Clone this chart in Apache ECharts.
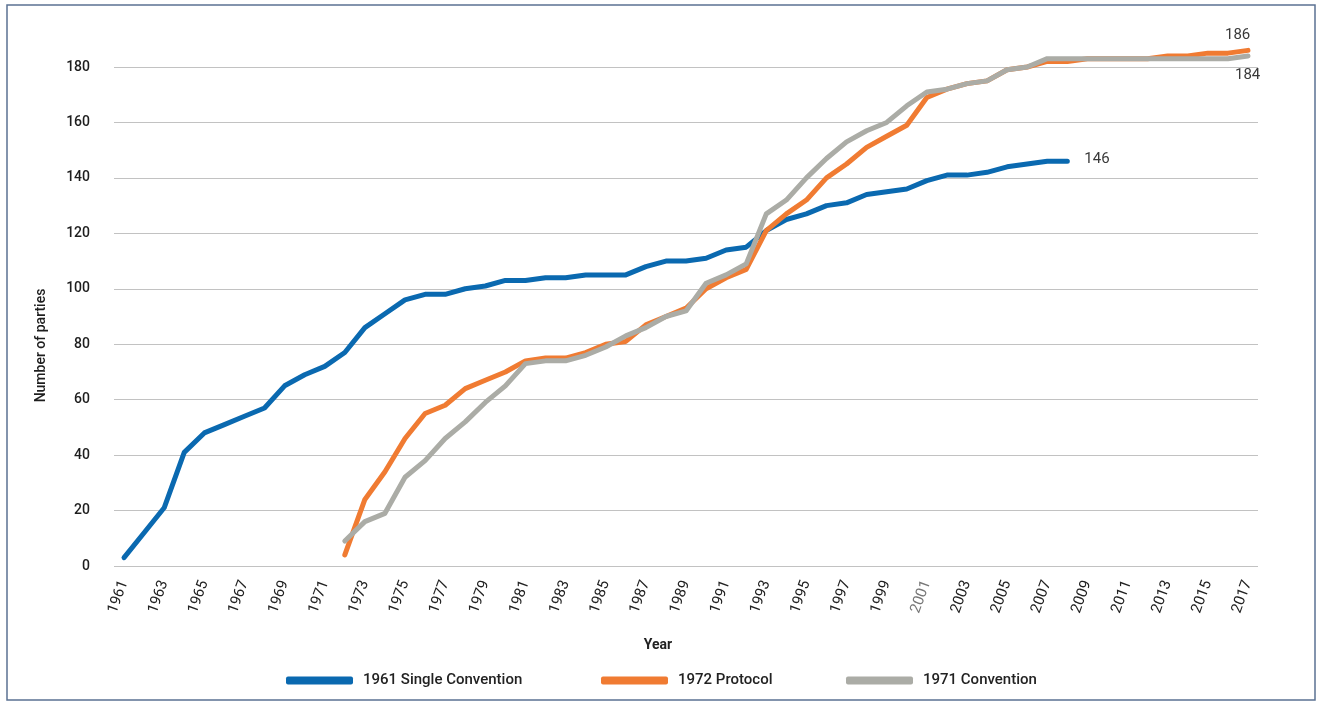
<!DOCTYPE html>
<html lang="en">
<head>
    <meta charset="UTF-8">
    <title>Parties to the drug control conventions</title>
</head>
<style>
    html, body{
        margin: 0;
        height: 100%;
        background-color: #fff;
    }
    .main{
        width: 1317px;
        height: 702px;
    }
</style>
<body>
<div id="main" class="main"></div>
<script src="https://cdn.jsdelivr.net/npm/echarts@6/dist/echarts.min.js"></script>
<script>
    // years on the x axis
    var firstYear = 1961, lastYear = 2017;
    var years = [];
    for (var y = firstYear; y <= lastYear; y++) {
        years.push(String(y));
    }

    // 1961 Single Convention, 1961..2008
    var singleConvention = [3, 12, 21, 41, 48, 51, 54, 57, 65, 69,
        72, 77, 86, 91, 96, 98, 98, 100, 101, 103,
        103, 104, 104, 105, 105, 105, 108, 110, 110, 111,
        114, 115, 121, 125, 127, 130, 131, 134, 135, 136,
        139, 141, 141, 142, 144, 145, 146, 146];

    // 1972 Protocol, 1972..2017
    var protocolStart = 1972;
    var protocol1972 = [4, 24, 34, 46, 55, 58, 64, 67, 70, 74,
        75, 75, 77, 80, 81, 87, 90, 93, 100, 104,
        107, 121, 127, 132, 140, 145, 151, 155, 159, 169,
        172, 174, 175, 179, 180, 182, 182, 183, 183, 183,
        183, 184, 184, 185, 185, 186];

    // 1971 Convention, 1972..2017
    var conventionStart = 1972;
    var convention1971 = [9, 16, 19, 32, 38, 46, 52, 59, 65, 73,
        74, 74, 76, 79, 83, 86, 90, 92, 102, 105,
        109, 127, 132, 140, 147, 153, 157, 160, 166, 171,
        172, 174, 175, 179, 180, 183, 183, 183, 183, 183,
        183, 183, 183, 183, 183, 184];

    var yTicks = [0, 20, 40, 60, 80, 100, 120, 140, 160, 180];
    var seriesNames = ['1961 Single Convention', '1972 Protocol', '1971 Convention'];

    function padFrom(start, arr) {
        var out = [];
        for (var i = 0; i < start - firstYear; i++) out.push(null);
        return out.concat(arr);
    }

    var font = 'Roboto, "Open Sans", sans-serif';
    var colors = ['#0a69b0', '#f07b32', '#abaca6'];

    var app = echarts.init(document.getElementById('main'));

    function lineSeries(name, data, color, labelOffset) {
        return {
            name: name,
            type: 'line',
            data: data,
            showSymbol: false,
            symbol: 'none',
            clip: false,
            smooth: false,
            lineStyle: {width: 5, color: color, cap: 'round', join: 'round'},
            itemStyle: {color: color},
            endLabel: {
                show: true,
                formatter: function (p) { return p.value; },
                offset: labelOffset,
                color: '#3a3a3a',
                fontSize: 15,
                fontFamily: font
            },
            emphasis: {disabled: true}
        };
    }

    function legendAt(name, left) {
        return {
            data: [name],
            left: left,
            top: 668,
            itemWidth: 67,
            itemHeight: 8,
            icon: 'roundRect',
            selectedMode: false,
            textStyle: {fontSize: 15, color: '#222', fontFamily: font, fontWeight: 500, padding: [0, 0, 0, 5]}
        };
    }

    var option = {
        animation: false,
        color: colors,
        grid: {left: 114, right: 59, top: 67, bottom: 136},
        legend: [
            legendAt(seriesNames[0], 281),
            legendAt(seriesNames[1], 596),
            legendAt(seriesNames[2], 841)
        ],
        xAxis: {
            type: 'category',
            data: years,
            boundaryGap: true,
            name: 'Year',
            nameLocation: 'middle',
            nameGap: 72,
            nameTextStyle: {fontSize: 14, fontWeight: 'bold', color: '#222', fontFamily: font, padding: [0, 56, 0, 0]},
            axisLine: {show: false},
            axisTick: {show: false},
            axisLabel: {
                interval: 1,
                rotate: 70,
                margin: 15,
                fontSize: 15,
                fontFamily: font,
                color: function (value) {
                    return value === '2001' ? '#777' : '#222';
                }
            }
        },
        yAxis: {
            type: 'value',
            min: yTicks[0],
            max: yTicks[yTicks.length - 1],
            interval: 20,
            name: 'Number of parties',
            nameLocation: 'middle',
            nameGap: 66,
            nameTextStyle: {fontSize: 14, fontWeight: 500, color: '#1e1e1e', fontFamily: font, padding: [0, 58, 0, 0]},
            axisLine: {show: false},
            axisTick: {show: false},
            axisLabel: {margin: 24, fontSize: 14, fontWeight: 500, color: '#1e1e1e', fontFamily: font},
            splitLine: {lineStyle: {color: '#c2c2c2', width: 1.2}}
        },
        graphic: [{
            type: 'rect',
            shape: {x: 7, y: 5, width: 1308, height: 695},
            style: {fill: 'none', stroke: '#5b7293', lineWidth: 1.5},
            silent: true
        }],
        series: [
            lineSeries(seriesNames[0], singleConvention, colors[0], [9, -2]),
            lineSeries(seriesNames[1], padFrom(protocolStart, protocol1972), colors[1], [-31, -15]),
            lineSeries(seriesNames[2], padFrom(conventionStart, convention1971), colors[2], [-21, 19])
        ]
    };

    app.setOption(option);
</script>
</body>
</html>
